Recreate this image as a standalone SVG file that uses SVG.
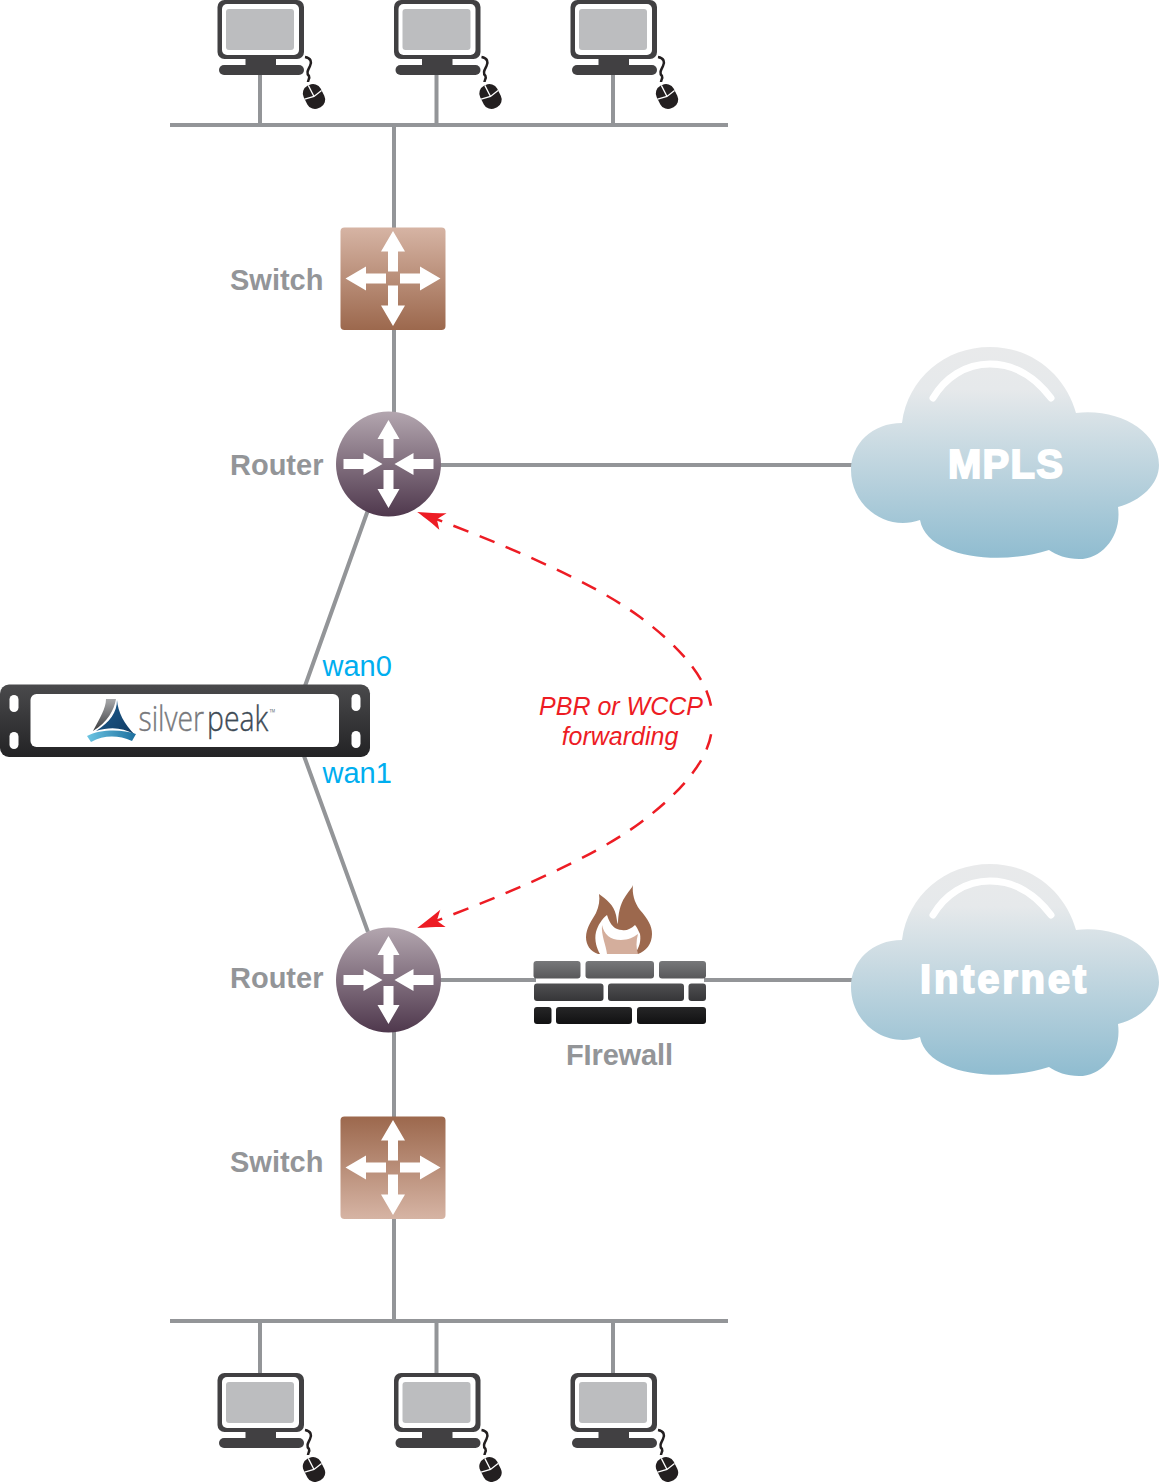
<svg xmlns="http://www.w3.org/2000/svg" width="1159" height="1482" viewBox="0 0 1159 1482">
<style>
.wire{stroke:#939598;stroke-width:4;fill:none}
.flow{fill:none;stroke:#ed1c24;stroke-width:2.500;stroke-dasharray:16 12;stroke-dashoffset:-8;marker-start:url(#ah)}
.lbl{font-family:"Liberation Sans",Arial,sans-serif;font-weight:700;font-size:29px;fill:#939598}
.wan{font-family:"Liberation Sans",Arial,sans-serif;font-size:29px;fill:#00aeef}
.red{font-family:"Liberation Sans",Arial,sans-serif;font-style:italic;font-size:25px;fill:#ed1c24;text-anchor:middle}
.cl{font-family:"Liberation Sans",Arial,sans-serif;font-weight:700;fill:#fff;stroke:#fff;stroke-width:1.800px}
.ar{fill:#fff}
.logo{font-family:"Open Sans",sans-serif;font-weight:300;font-size:35px;stroke-width:.4px}
</style>
<defs>
<linearGradient id="swA" x1="0" y1="0" x2="0" y2="1"><stop offset="0" stop-color="#d6b4a4"/><stop offset="1" stop-color="#9c684d"/></linearGradient>
<linearGradient id="swB" x1="0" y1="0" x2="0" y2="1"><stop offset="0" stop-color="#9c684d"/><stop offset="1" stop-color="#d6b4a4"/></linearGradient>
<linearGradient id="rt" x1="0" y1="0" x2="0" y2="1"><stop offset="0" stop-color="#b3a6af"/><stop offset="1" stop-color="#4f384d"/></linearGradient>
<linearGradient id="cloud" x1="0" y1="0" x2="0" y2="1"><stop offset="0" stop-color="#e9eaeb"/><stop offset="0.2" stop-color="#e6e9eb"/><stop offset="1" stop-color="#8fbcd0"/></linearGradient>
<linearGradient id="sp" x1="0" y1="0" x2="0" y2="1"><stop offset="0" stop-color="#4a4a4c"/><stop offset="1" stop-color="#232325"/></linearGradient>
<linearGradient id="b1" x1="0" y1="0" x2="0" y2="1"><stop offset="0" stop-color="#77787a"/><stop offset="1" stop-color="#58585a"/></linearGradient>
<linearGradient id="b2" x1="0" y1="0" x2="0" y2="1"><stop offset="0" stop-color="#505052"/><stop offset="1" stop-color="#363638"/></linearGradient>
<linearGradient id="b3" x1="0" y1="0" x2="0" y2="1"><stop offset="0" stop-color="#262627"/><stop offset="1" stop-color="#111112"/></linearGradient>
<linearGradient id="lg1" x1="0" y1="0" x2="0" y2="1"><stop offset="0" stop-color="#a8a9ab"/><stop offset="1" stop-color="#3c3d40"/></linearGradient>
<linearGradient id="lg2" x1="0" y1="0" x2="1" y2="1"><stop offset="0" stop-color="#1f5f93"/><stop offset="1" stop-color="#103a60"/></linearGradient>
<linearGradient id="lg3" x1="0" y1="0" x2="1" y2="0"><stop offset="0" stop-color="#6cc5e3"/><stop offset="1" stop-color="#1c6f9e"/></linearGradient>
<g id="pc">
<rect x="217.500" y="0" width="86.500" height="59" rx="7" fill="#414042"/>
<rect x="222" y="4" width="77" height="51" rx="5" fill="#fff"/>
<rect x="226" y="9" width="68" height="41" rx="3" fill="#bcbdbf"/>
<rect x="245.500" y="59" width="30.500" height="7" fill="#414042"/>
<rect x="219" y="65" width="85" height="10" rx="5" fill="#414042"/>
<path d="M305 57C311 58 312 62 310 66C308 70 306 73 309 76C310 78 308 80 308 82" fill="none" stroke="#231f20" stroke-width="2.500"/>
<g transform="translate(314 96.500) rotate(-27)">
<rect x="-9.500" y="-12.500" width="19" height="25" rx="8.500" fill="#231f20"/>
<path d="M-9.500 -2L0 0L9.500 -2M0 0V-12.500" fill="none" stroke="#fff" stroke-width="1.300"/>
</g>
</g>
<path id="cld" d="M902 423C908 378 945 347 990 347C1033 347 1066 376 1076 413C1119 408 1159 431 1159 465C1159 484 1141 501 1118 507C1122 536 1102 559 1079 559C1067 559 1056 555 1049 550C1000 566 927 558 920 520C886 532 851 506 851 470C851 444 872 423 902 423Z" fill="url(#cloud)"/>
<path id="hl" d="M933 398C945 378 965 364 990 364C1015 364 1036 378 1051 398" fill="none" stroke="#fff" stroke-width="7" stroke-linecap="round"/>
<g id="sw-arrows">
<path d="M0 -47.500L12 -27H5V-7H-5V-27H-12Z"/>
<path d="M0 47.500L12 27H5V7H-5V27H-12Z"/>
<path d="M-47.500 0L-27 -12V-5H-7V5H-27V12Z"/>
<path d="M47.500 0L27 -12V-5H7V5H27V12Z"/>
</g>
<g id="rt-arrows">
<path d="M0 -44L11 -25H5V-6H-5V-25H-11Z"/>
<path d="M0 44L11 25H5V6H-5V25H-11Z"/>
<path d="M-6 0L-25 -11V-5H-45V5H-25V11Z"/>
<path d="M6 0L25 -11V-5H45V5H25V11Z"/>
</g>
<marker id="ah" viewBox="0 0 30 24" refX="3" refY="12" markerWidth="30" markerHeight="24" markerUnits="userSpaceOnUse" orient="auto">
<path d="M0 12C10 9 20 6 28 3L21 12L27 21C20 18 10 15 0 12Z" fill="#ed1c24"/>
</marker>
</defs>

<g id="connectors">
<path class="wire" d="M170 125H728M260 75V125M436.500 75V125M613 75V125M394 125V228M394 330V414"/>
<path class="wire" d="M440 465H853M368 510L305 686M304 756L368 932M440 980H536M704 980H853M394 1030V1117M394 1219V1321M170 1321H728M260 1321V1373M436.500 1321V1373M613 1321V1373"/>
<path class="flow" d="M420 513C500 543 590 580 640 617C680 647 710 680 712 714"/>
<path class="flow" d="M420 927C500 897 590 860 640 823C680 793 710 760 712 727"/>
</g>

<g id="pc-top-1"><use href="#pc"/></g>
<g id="pc-top-2"><use href="#pc" x="176.500"/></g>
<g id="pc-top-3"><use href="#pc" x="353"/></g>
<g id="pc-bot-1"><use href="#pc" y="1373"/></g>
<g id="pc-bot-2"><use href="#pc" x="176.500" y="1373"/></g>
<g id="pc-bot-3"><use href="#pc" x="353" y="1373"/></g>

<g id="switch-top">
<rect x="340.500" y="227.500" width="105" height="102.500" rx="4" fill="url(#swA)"/>
<use href="#sw-arrows" class="ar" transform="translate(393 278.500)"/>
<text class="lbl" x="230" y="290">Switch</text>
</g>

<g id="router-top">
<circle cx="388.500" cy="464" r="52.500" fill="url(#rt)"/>
<use href="#rt-arrows" class="ar" transform="translate(388.500 464)"/>
<text class="lbl" x="230" y="475">Router</text>
</g>

<g id="silverpeak">
<rect x="0" y="684.500" width="370" height="72.500" rx="9" fill="url(#sp)"/>
<rect x="30.500" y="694" width="308.500" height="53" rx="6" fill="#fff"/>
<rect x="9.500" y="695" width="9" height="17" rx="4.500" fill="#fff"/>
<rect x="9.500" y="732" width="9" height="17" rx="4.500" fill="#fff"/>
<rect x="351.500" y="694" width="9" height="17" rx="4.500" fill="#fff"/>
<rect x="351.500" y="731" width="9" height="17" rx="4.500" fill="#fff"/>
<path d="M106 699H116C114 710 108 722 93 731C100 718 106 708 106 699Z" fill="url(#lg1)"/>
<path d="M117 700C118 712 124 724 135 735C122 727 110 727 96 731C110 722 117 712 117 700Z" fill="url(#lg2)"/>
<path d="M87 736C100 729 122 729 136 734L132 741C118 735 104 735 91 742Z" fill="url(#lg3)"/>
<text class="logo" transform="translate(138.500 730.500) scale(.81 1)"><tspan fill="#77787b" stroke="#77787b">silver </tspan><tspan x="84.600" fill="#3d4a55" stroke="#3d4a55">peak</tspan><tspan x="161.700" y="-14.500" font-size="10" stroke="none" fill="#3d4a55">™</tspan></text>
</g>
<text class="wan" x="322.500" y="676">wan0</text>
<text class="wan" x="322.500" y="783">wan1</text>
<text class="red" x="621" y="715">PBR or WCCP</text>
<text class="red" x="620" y="745">forwarding</text>

<g id="router-bottom">
<circle cx="388.500" cy="980" r="52.500" fill="url(#rt)"/>
<use href="#rt-arrows" class="ar" transform="translate(388.500 980)"/>
<text class="lbl" x="230" y="988">Router</text>
</g>

<g id="firewall">
<path d="M599 894C606 899 614 905 616 915C617 920 617 922 618 924C618 915 620 904 625 897C628 892 632 888 633 885C632 893 634 902 640 910C648 919 652 926 652 934C652 944 646 951 638 954L634 954C640 948 641 940 640 934C638 930 637 927 635 925C631 929 626 931 622 930C615 930 610 925 607 915C602 919 598 925 596 932C594 940 597 949 600 954L598 954C590 951 586 945 586 937C586 928 592 920 596 913C599 906 600 900 599 894Z" fill="#9c684d"/>
<path d="M602 925C604 934 610 940 621 940C628 940 634 937 638 934C636 941 636 948 638 954H607C606 945 601 935 602 925Z" fill="#d4ae9c"/>
<rect x="533.500" y="961" width="47" height="17.500" rx="3" fill="url(#b1)"/>
<rect x="585.500" y="961" width="68.500" height="17.500" rx="3" fill="url(#b1)"/>
<rect x="659" y="961" width="47" height="17.500" rx="3" fill="url(#b1)"/>
<rect x="534" y="983.500" width="69.500" height="17.500" rx="3" fill="url(#b2)"/>
<rect x="608" y="983.500" width="76" height="17.500" rx="3" fill="url(#b2)"/>
<rect x="688.500" y="983.500" width="17.500" height="17.500" rx="3" fill="url(#b2)"/>
<rect x="534" y="1007" width="17.500" height="17" rx="3" fill="url(#b3)"/>
<rect x="556" y="1007" width="76" height="17" rx="3" fill="url(#b3)"/>
<rect x="637" y="1007" width="69" height="17" rx="3" fill="url(#b3)"/>
<text class="lbl" x="566" y="1065" textLength="107">FIrewall</text>
</g>

<g id="switch-bottom">
<rect x="340.500" y="1116.500" width="105" height="102.500" rx="4" fill="url(#swB)"/>
<use href="#sw-arrows" class="ar" transform="translate(393 1167.500)"/>
<text class="lbl" x="230" y="1172">Switch</text>
</g>

<g id="cloud-mpls">
<use href="#cld"/><use href="#hl"/>
<text class="cl" x="948" y="478" font-size="40" textLength="115">MPLS</text>
</g>
<g id="cloud-internet">
<use href="#cld" y="517"/><use href="#hl" y="517"/>
<text class="cl" x="920" y="993" font-size="40" textLength="166">Internet</text>
</g>
</svg>
